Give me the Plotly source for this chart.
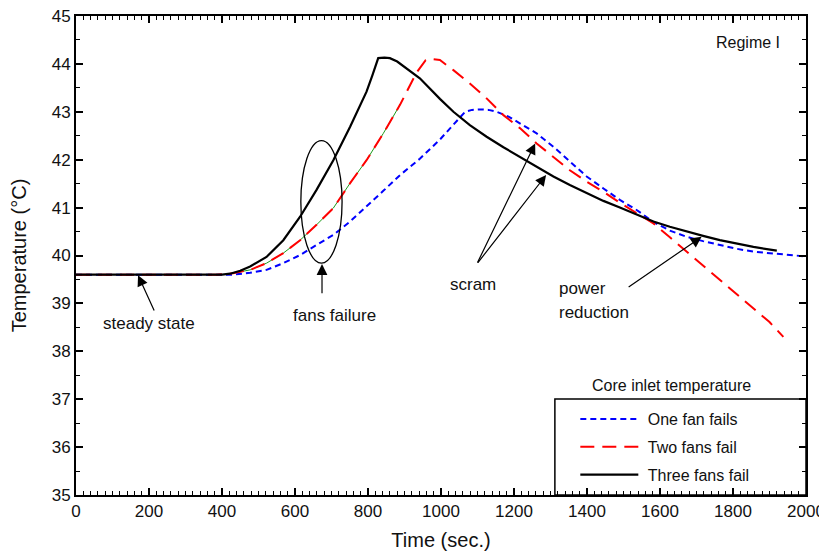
import plotly.graph_objects as go

# ---------------- data ----------------
t_one = [0, 400, 431, 477, 522, 568, 614, 659, 705, 751, 796, 842, 888, 942, 997,
         1034, 1066, 1085, 1107, 1130, 1153, 1185, 1216, 1262, 1308, 1353, 1399,
         1445, 1490, 1536, 1582, 1627, 1673, 1718, 1764, 1810, 1856, 1920, 1984, 2000]
T_one = [39.6, 39.6, 39.6, 39.64, 39.70, 39.84, 40.01, 40.22, 40.43, 40.71, 41.02,
         41.35, 41.68, 42.02, 42.42, 42.72, 43.00, 43.04, 43.05, 43.04, 43.00, 42.90,
         42.76, 42.55, 42.27, 41.96, 41.65, 41.40, 41.16, 40.95, 40.70, 40.52, 40.39,
         40.30, 40.22, 40.14, 40.08, 40.03, 39.99, 39.98]

t_two = [0, 385, 430, 477, 522, 568, 614, 659, 705, 751, 796, 842, 888, 933, 958,
         975, 997, 1034, 1079, 1125, 1171, 1216, 1262, 1308, 1353, 1399, 1445, 1490,
         1536, 1582, 1627, 1673, 1718, 1764, 1810, 1856, 1900, 1938]
T_two = [39.6, 39.6, 39.63, 39.70, 39.84, 40.05, 40.32, 40.64, 40.99, 41.51, 41.99,
         42.55, 43.15, 43.82, 44.08, 44.10, 44.08, 43.87, 43.59, 43.28, 42.93, 42.66,
         42.34, 42.06, 41.78, 41.54, 41.33, 41.10, 40.88, 40.67, 40.38, 40.08, 39.78,
         39.49, 39.20, 38.90, 38.61, 38.30]

t_three = [0, 400, 422, 450, 477, 522, 568, 614, 659, 705, 751, 774, 796, 812, 828,
           845, 860, 880, 906, 942, 997, 1034, 1079, 1125, 1171, 1216, 1262, 1308,
           1353, 1399, 1445, 1490, 1536, 1582, 1627, 1673, 1718, 1764, 1810, 1856, 1920]
T_three = [39.6, 39.6, 39.62, 39.68, 39.77, 39.97, 40.32, 40.81, 41.37, 41.99, 42.69,
           43.05, 43.42, 43.76, 44.12, 44.13, 44.12, 44.05, 43.91, 43.70, 43.27, 43.00,
           42.72, 42.48, 42.26, 42.06, 41.85, 41.65, 41.47, 41.30, 41.14, 41.00, 40.86,
           40.71, 40.60, 40.50, 40.41, 40.32, 40.25, 40.18, 40.10]

# hidden green curve showing through the red dash gaps (rising part)
t_green = t_two[2:13]
T_green = T_two[2:13]

series_names = ["One fan fails", "Two fans fail", "Three fans fail"]
x_ticks = [0, 200, 400, 600, 800, 1000, 1200, 1400, 1600, 1800, 2000]
y_ticks = [35, 36, 37, 38, 39, 40, 41, 42, 43, 44, 45]

FONT = "Liberation Sans, Arial, sans-serif"
NB = "\u00a0"

fig = go.Figure()
fig.add_trace(go.Scatter(x=t_green, y=T_green, mode="lines", showlegend=False,
                         line=dict(color="#1a9a1a", width=1), hoverinfo="skip"))
fig.add_trace(go.Scatter(x=t_one, y=T_one, mode="lines", name=NB + series_names[0],
                         legendgroup="a",
                         line=dict(color="#0000ff", width=2, dash="6px,4px")))
fig.add_trace(go.Scatter(x=t_two, y=T_two, mode="lines", name=NB + series_names[1],
                         legendgroup="b",
                         line=dict(color="#ff0000", width=2, dash="14px,8px")))
fig.add_trace(go.Scatter(x=t_three, y=T_three, mode="lines", name=NB + series_names[2],
                         legendgroup="c",
                         line=dict(color="#000000", width=2.2)))

axis_common = dict(
    showline=True, linecolor="black", linewidth=2, mirror="ticks",
    ticks="inside", ticklen=7, tickwidth=1.5, tickcolor="black",
    showgrid=False, zeroline=False, automargin=False,
    ticklabeloverflow="allow",
    tickfont=dict(family=FONT, size=17, color="#111"),
)

fig.update_xaxes(range=[0, 2000], tickvals=x_ticks,
                 title=dict(text="Time (sec.)", font=dict(family=FONT, size=20, color="#111"), standoff=13),
                 minor=dict(dtick=20, ticks="inside", ticklen=4, tickwidth=1, tickcolor="black"),
                 **axis_common)
fig.update_yaxes(range=[35, 45], tickvals=y_ticks,
                 title=dict(text="Temperature (°C)", font=dict(family=FONT, size=20, color="#111"), standoff=20),
                 minor=dict(dtick=0.5, ticks="inside", ticklen=4, tickwidth=1, tickcolor="black"),
                 **axis_common)

# ellipse around the fans-failure region
fig.add_shape(type="circle", xref="x", yref="y", x0=616, x1=729, y0=39.84, y1=42.40,
              line=dict(color="black", width=1.3))

# legend box (top & left edges; right & bottom are the axes)
fig.add_shape(type="rect", xref="paper", yref="paper", x0=0.656, x1=1.0, y0=0.0, y1=0.2004,
              line=dict(color="black", width=1.5))

ann = []
def arrow(x, y, ax, ay):
    ann.append(dict(x=x, y=y, ax=ax, ay=ay, xref="x", yref="y", axref="x", ayref="y",
                    text="", showarrow=True, arrowhead=2, arrowsize=1.8, arrowwidth=1.2,
                    arrowcolor="black", standoff=0, startstandoff=0))

def label(x, y, text, size=17, xanchor="center"):
    ann.append(dict(x=x, y=y, xref="x", yref="y", text=text, showarrow=False,
                    xanchor=xanchor, yanchor="middle",
                    font=dict(family=FONT, size=size, color="#111")))

arrow(170, 39.59, 216, 38.82)
label(200, 38.59, "steady state")
arrow(674, 39.82, 674, 39.18)
label(707, 38.74, "fans failure")
arrow(1258, 42.34, 1098, 39.82)
arrow(1288, 41.68, 1098, 39.82)
label(1088, 39.40, "scram")
arrow(1714, 40.39, 1510, 39.32)
label(1318, 39.32, "power", xanchor="left")
label(1318, 38.82, "reduction", xanchor="left")
label(1841, 44.44, "Regime I", size=16)

ann.append(dict(x=0.816, y=0.2296, xref="paper", yref="paper", text="Core inlet temperature",
                showarrow=False, xanchor="center", yanchor="middle",
                font=dict(family=FONT, size=16, color="#111")))

# page body has an 8px default margin: size/margins compensate so the plot area
# lands at x 76..806, y 16..495 in the 827x556 window
fig.update_layout(
    width=819, height=548,
    margin=dict(l=68, r=21, t=8, b=61),
    plot_bgcolor="white", paper_bgcolor="white",
    annotations=ann,
    legend=dict(x=0.684, y=0.194, xanchor="left", yanchor="top",
                bgcolor="rgba(0,0,0,0)", borderwidth=0, itemwidth=58,
                tracegroupgap=4,
                font=dict(family=FONT, size=16, color="#111")),
    font=dict(family=FONT),
)

fig.write_html("out.html")
